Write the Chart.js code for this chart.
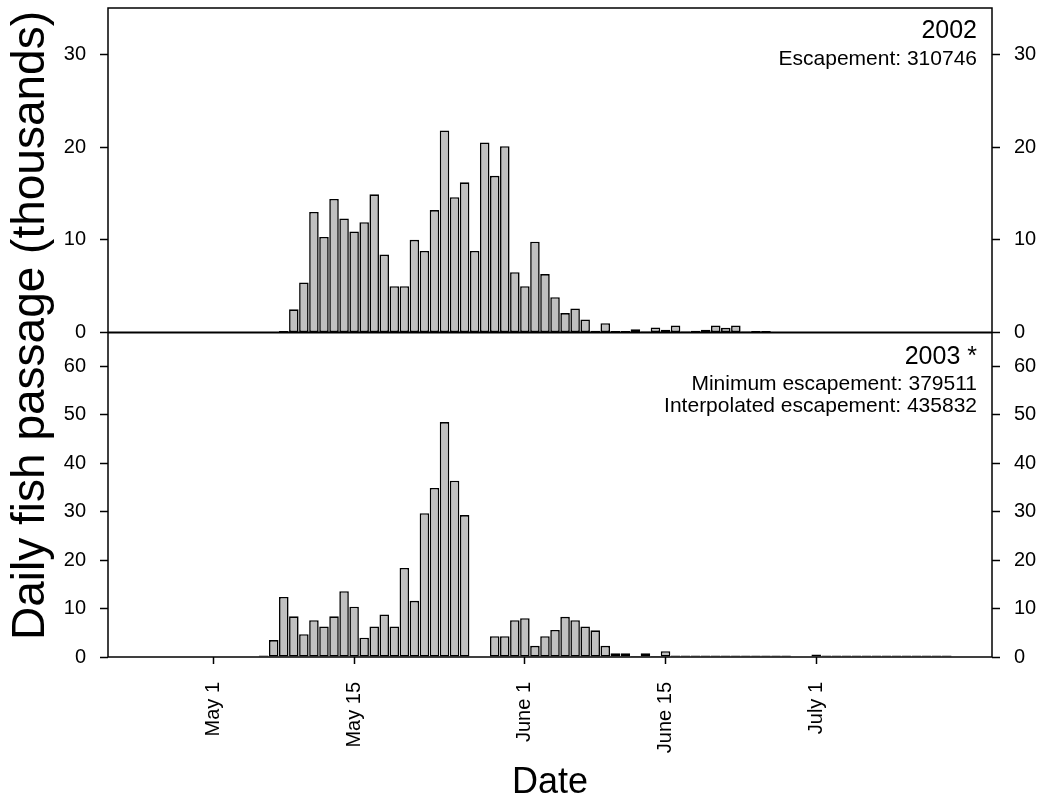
<!DOCTYPE html>
<html>
<head>
<meta charset="utf-8">
<script src="https://cdn.jsdelivr.net/npm/chart.js@4.4.1/dist/chart.umd.min.js"></script>
<style>
  html, body { margin: 0; padding: 0; background: #fff; }
</style>
</head>
<body>
<canvas id="fishChart" width="1044" height="801"></canvas>
<script>
// days are counted from May 1 (day 0)
const days = [];
for (let d = -10; d <= 77; d++) days.push(d);

const tickDays = [0, 14, 31, 45, 60];
const tickLabels = ['May 1', 'May 15', 'June 1', 'June 15', 'July 1'];

// daily passage in thousands, 2002 series starts on day 7
const start2002 = 7;
const fish2002 = [
  0.15, 2.5, 5.4, 13.0, 10.3, 14.4, 12.3, 10.9, 11.9, 14.9,
  8.4, 5.0, 5.0, 10.0, 8.8, 13.2, 21.8, 14.6, 16.2, 8.8,
  20.5, 16.9, 20.1, 6.5, 5.0, 9.8, 6.3, 3.8, 2.1, 2.6,
  1.4, 0.2, 1.0, 0.15, 0.15, 0.35, 0.1, 0.55, 0.3, 0.75,
  0.1, 0.2, 0.3, 0.75, 0.5, 0.75, 0.1, 0.15, 0.15
];

// 2003 series starts on day 5
const start2003 = 5;
const fish2003 = [
  0.3, 3.5, 12.4, 8.4, 4.7, 7.6, 6.3, 8.4, 13.6, 10.4,
  4.0, 6.3, 8.8, 6.3, 18.4, 11.6, 29.7, 34.9, 48.5, 36.4,
  29.3, null, null, 4.3, 4.3, 7.6, 8.0, 2.3, 4.3, 5.6,
  8.3, 7.6, 6.3, 5.5, 2.3, 0.75, 0.75, 0.2, 0.75, 0.2,
  1.2, 0.3, 0.3, 0.3, 0.3, 0.3, 0.3, 0.3, 0.3, 0.3,
  0.3, 0.3, 0.3, null, null, 0.5, 0.3, 0.3, 0.3, 0.3,
  0.3, 0.3, 0.3, 0.3, 0.3, 0.3, 0.3, 0.3, 0.3
];

const notes2002 = ['2002', 'Escapement: 310746'];
const notes2003 = ['2003 *', 'Minimum escapement: 379511', 'Interpolated escapement: 435832'];
const yTitle = 'Daily fish passage (thousands)';
const xTitle = 'Date';

const fontFamily = '"Liberation Sans", Arial, sans-serif';

function onDays(values, start) {
  return days.map(d => {
    const i = d - start;
    return i >= 0 && i < values.length ? values[i] : null;
  });
}

function panelAxis(position, stack, max) {
  return {
    type: 'linear',
    position: position,
    stack: stack,
    stackWeight: 1,
    min: 0,
    max: max,
    border: { display: false },
    grid: { drawOnChartArea: false, drawTicks: true, tickLength: 8, tickColor: '#000', tickWidth: 1.5 },
    ticks: { stepSize: 10, includeBounds: false, padding: 14, color: '#000', font: { family: fontFamily, size: 20 } },
    afterFit: function (scale) {
      scale.width = position === 'left' ? 108 : 52;
      scale.paddingTop = 0;
      scale.paddingBottom = 0;
    }
  };
}

const framePlugin = {
  id: 'frame',
  afterDraw(chart) {
    const ctx = chart.ctx;
    const area = chart.chartArea;
    const top = chart.scales.y02;
    const bottom = chart.scales.y03;
    ctx.save();
    ctx.strokeStyle = '#000';
    ctx.lineWidth = 1.5;
    ctx.strokeRect(area.left, area.top, area.right - area.left, area.bottom - area.top);
    const midY = top.getPixelForValue(0);
    ctx.lineWidth = 2;
    ctx.beginPath();
    ctx.moveTo(area.left, midY);
    ctx.lineTo(area.right, midY);
    ctx.stroke();

    // panel notes, top right
    ctx.fillStyle = '#000';
    ctx.textAlign = 'right';
    ctx.textBaseline = 'alphabetic';
    const x = area.right - 15;
    ctx.font = '25px ' + fontFamily;
    ctx.fillText(notes2002[0], x, top.top + 30);
    ctx.fillText(notes2003[0], x, bottom.top + 31);
    ctx.font = '21px ' + fontFamily;
    ctx.fillText(notes2002[1], x, top.top + 57);
    ctx.fillText(notes2003[1], x, bottom.top + 57);
    ctx.fillText(notes2003[2], x, bottom.top + 79);

    // shared y title
    ctx.translate(31, (area.top + area.bottom) / 2 - 7);
    ctx.rotate(-Math.PI / 2);
    ctx.textAlign = 'center';
    ctx.textBaseline = 'middle';
    ctx.font = '46px ' + fontFamily;
    ctx.fillText(yTitle, 0, 0);
    ctx.restore();
  }
};

const ctx = document.getElementById('fishChart').getContext('2d');

const barStyle = {
  backgroundColor: '#c0c0c0',
  borderColor: '#000',
  borderWidth: 1.6,
  borderSkipped: false,
  grouped: false,
  barPercentage: 0.95,
  categoryPercentage: 1.0
};

const fishChart = new Chart(ctx, {
  type: 'bar',
  data: {
    labels: days,
    datasets: [
      Object.assign({ label: '2002', data: onDays(fish2002, start2002), yAxisID: 'y02' }, barStyle),
      Object.assign({ label: '2003', data: onDays(fish2003, start2003), yAxisID: 'y03' }, barStyle)
    ]
  },
  options: {
    responsive: false,
    maintainAspectRatio: false,
    animation: false,
    layout: { padding: { top: 8, left: 0, right: 0, bottom: 0 } },
    plugins: {
      legend: { display: false },
      tooltip: { enabled: false }
    },
    scales: {
      x: {
        type: 'category',
        position: 'bottom',
        offset: true,
        border: { display: false },
        grid: {
          offset: false,
          drawOnChartArea: false,
          drawTicks: true,
          tickLength: 7,
          tickWidth: 1.5,
          color: 'rgba(0,0,0,0)',
          tickColor: c => tickDays.includes(days[c.index]) ? '#000' : 'rgba(0,0,0,0)'
        },
        ticks: {
          autoSkip: false,
          minRotation: 90,
          maxRotation: 90,
          padding: 18,
          color: '#000',
          font: { family: fontFamily, size: 20 },
          callback: function (value, index) {
            const i = tickDays.indexOf(days[index]);
            return i >= 0 ? tickLabels[i] : '';
          }
        },
        title: {
          display: true,
          text: xTitle,
          color: '#000',
          font: { family: fontFamily, size: 36, lineHeight: 1 },
          padding: { top: 0, bottom: 0 }
        },
        afterFit: function (scale) {
          scale.height = 144;
          scale.paddingLeft = 0;
          scale.paddingRight = 0;
        }
      },
      y03: panelAxis('left', 'left', 67),
      y02: panelAxis('left', 'left', 35),
      y02r: panelAxis('right', 'right', 35),
      y03r: panelAxis('right', 'right', 67)
    }
  },
  plugins: [framePlugin]
});
</script>
</body>
</html>
